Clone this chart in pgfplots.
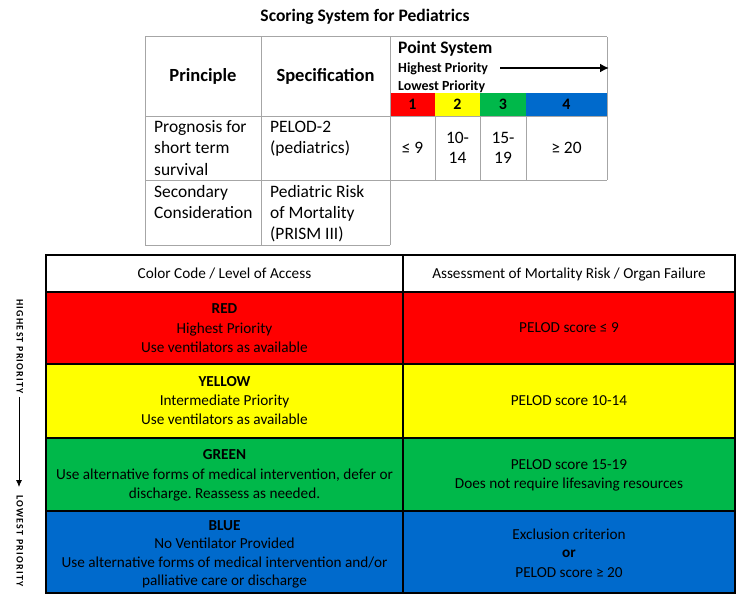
\documentclass[border=0pt]{standalone}
\usepackage{pgfplots}
\pgfplotsset{compat=1.18}
\usepackage{fontspec}
\setmainfont{Carlito}
\usetikzlibrary{arrows.meta}
\frenchspacing
\definecolor{cred}{HTML}{FF0000}
\definecolor{cyel}{HTML}{FFFF00}
\definecolor{cgrn}{HTML}{00B84A}
\definecolor{cblu}{HTML}{006ACC}
\definecolor{gridc}{HTML}{A6A6A6}
\tikzset{txt/.style={inner sep=0pt,yshift=-2.5bp}}
\newcommand\TC[3]{\node[font=\fontsize{15.3}{18}\selectfont,anchor=mid,txt] at (axis cs:#1,#2) {#3};}
\newcommand\TL[3]{\node[font=\fontsize{17.5}{21}\selectfont,anchor=mid west,txt] at (axis cs:#1,#2) {#3};}
\newcommand\TM[3]{\node[font=\fontsize{17.5}{21}\selectfont,anchor=mid,txt] at (axis cs:#1,#2) {#3};}
\begin{document}
\begin{tikzpicture}
\begin{axis}[width=750bp,height=608bp,scale only axis,
  xmin=0,xmax=750,ymin=0,ymax=608,y dir=reverse,hide axis,clip=false]
\addplot[draw=none] coordinates {(0,0)(750,608)};
% ---- top table colour band
\addplot[fill=cred,draw=none] coordinates {(390,93)(435,93)(435,116)(390,116)} --cycle;
\addplot[fill=cyel,draw=none] coordinates {(435,93)(480,93)(480,116)(435,116)} --cycle;
\addplot[fill=cgrn,draw=none] coordinates {(480,93)(526,93)(526,116)(480,116)} --cycle;
\addplot[fill=cblu,draw=none] coordinates {(526,93)(607,93)(607,116)(526,116)} --cycle;
% ---- top table grid
\addplot[gridc,line width=1bp] coordinates {(145,37)(607,37)};
\addplot[gridc,line width=1bp] coordinates {(145,116)(607,116)};
\addplot[gridc,line width=1bp] coordinates {(145,180)(607,180)};
\addplot[gridc,line width=1bp] coordinates {(145,245)(390,245)};
\addplot[gridc,line width=1bp] coordinates {(145,37)(145,245)};
\addplot[gridc,line width=1bp] coordinates {(261,37)(261,245)};
\addplot[gridc,line width=1bp] coordinates {(390,37)(390,245)};
\addplot[gridc,line width=1bp] coordinates {(607,37)(607,180)};
\addplot[gridc,line width=1bp] coordinates {(435,116)(435,180)};
\addplot[gridc,line width=1bp] coordinates {(480,116)(480,180)};
\addplot[gridc,line width=1bp] coordinates {(526,116)(526,180)};
% arrow
\addplot[black,line width=2.2bp,-{Latex[length=9bp,width=9bp]}] coordinates {(500,68)(609,68)};
% ---- bottom table fills
\addplot[fill=white,draw=black,line width=1.2bp] coordinates {(46,255)(403,255)(403,292)(46,292)} --cycle;
\addplot[fill=white,draw=black,line width=1.2bp] coordinates {(403,255)(735,255)(735,292)(403,292)} --cycle;
\addplot[fill=cred,draw=black,line width=1.2bp] coordinates {(46,292)(403,292)(403,364)(46,364)} --cycle;
\addplot[fill=cred,draw=black,line width=1.2bp] coordinates {(403,292)(735,292)(735,364)(403,364)} --cycle;
\addplot[fill=cyel,draw=black,line width=1.2bp] coordinates {(46,364)(403,364)(403,438)(46,438)} --cycle;
\addplot[fill=cyel,draw=black,line width=1.2bp] coordinates {(403,364)(735,364)(735,438)(403,438)} --cycle;
\addplot[fill=cgrn,draw=black,line width=1.2bp] coordinates {(46,438)(403,438)(403,511)(46,511)} --cycle;
\addplot[fill=cgrn,draw=black,line width=1.2bp] coordinates {(403,438)(735,438)(735,511)(403,511)} --cycle;
\addplot[fill=cblu,draw=black,line width=1.2bp] coordinates {(46,511)(403,511)(403,593)(46,593)} --cycle;
\addplot[fill=cblu,draw=black,line width=1.2bp] coordinates {(403,511)(735,511)(735,593)(403,593)} --cycle;
% left arrow
\addplot[black,line width=0.8bp,-{Latex[length=7bp,width=6bp]}] coordinates {(19,397)(19,487)};
% ---- texts top
\node[font=\fontsize{17.6}{20}\selectfont\bfseries,anchor=mid,txt] at (axis cs:365,17) {Scoring System for Pediatrics};
\node[font=\fontsize{18.6}{21}\selectfont\bfseries,anchor=mid,txt] at (axis cs:203,77) {Principle};
\node[font=\fontsize{18.6}{21}\selectfont\bfseries,anchor=mid,txt] at (axis cs:325.5,77) {Specification};
\node[font=\fontsize{17.6}{20}\selectfont\bfseries,anchor=mid west,txt] at (axis cs:398,49) {Point System};
\node[font=\fontsize{14}{16}\selectfont\bfseries,anchor=mid west,txt] at (axis cs:398,68) {Highest Priority};
\node[font=\fontsize{14}{16}\selectfont\bfseries,anchor=mid west,txt] at (axis cs:398,86) {Lowest Priority};
\node[font=\fontsize{16}{18}\selectfont\bfseries,anchor=mid,txt] at (axis cs:412.5,105) {1};
\node[font=\fontsize{16}{18}\selectfont\bfseries,anchor=mid,txt] at (axis cs:457.5,105) {2};
\node[font=\fontsize{16}{18}\selectfont\bfseries,anchor=mid,txt] at (axis cs:503,105) {3};
\node[font=\fontsize{16}{18}\selectfont\bfseries,anchor=mid,txt] at (axis cs:566.5,105) {4};
\TL{154}{128}{Prognosis for}
\TL{154}{149}{short term}
\TL{154}{171}{survival}
\TL{270}{128}{PELOD-2}
\TL{270}{149}{(pediatrics)}
\TL{154}{193}{Secondary}
\TL{154}{214}{Consideration}
\TL{270}{193}{Pediatric Risk}
\TL{270}{214}{of Mortality}
\TL{270}{235}{(PRISM III)}
\TM{412.5}{149}{≤ 9}
\TM{457.5}{139}{10-}
\TM{457.5}{159}{14}
\TM{503}{139}{15-}
\TM{503}{159}{19}
\TM{566.5}{149}{≥ 20}
% ---- texts bottom
\TC{224.5}{274}{Color Code / Level of Access}
\TC{569}{274}{Assessment of Mortality Risk / Organ Failure}
\TC{224.5}{309}{\textbf{RED}}
\TC{224.5}{329}{Highest Priority}
\TC{224.5}{348}{Use ventilators as available}
\TC{569}{328}{PELOD score ≤ 9}
\TC{224.5}{382}{\textbf{YELLOW}}
\TC{224.5}{401}{Intermediate Priority}
\TC{224.5}{420}{Use ventilators as available}
\TC{569}{401}{PELOD score 10-14}
\TC{224.5}{455}{\textbf{GREEN}}
\TC{224.5}{475}{Use alternative forms of medical intervention, defer or}
\TC{224.5}{494}{discharge. Reassess as needed.}
\TC{569}{465}{PELOD score 15-19}
\TC{569}{484}{Does not require lifesaving resources}
\TC{224.5}{526}{\textbf{BLUE}}
\TC{224.5}{544}{No Ventilator Provided}
\TC{224.5}{563}{Use alternative forms of medical intervention and/or}
\TC{224.5}{581}{palliative care or discharge}
\TC{569}{535}{Exclusion criterion}
\TC{569}{553}{\textbf{or}}
\TC{569}{573}{PELOD score ≥ 20}
\node[font=\fontsize{10}{12}\selectfont\bfseries,rotate=-90,anchor=mid west,inner sep=0pt] at (axis cs:19,299) {\addfontfeatures{LetterSpace=13}HIGHEST PRIORITY};
\node[font=\fontsize{10}{12}\selectfont\bfseries,rotate=-90,anchor=mid west,inner sep=0pt] at (axis cs:19,495) {\addfontfeatures{LetterSpace=13}LOWEST PRIORITY};
\end{axis}
\end{tikzpicture}
\end{document}
